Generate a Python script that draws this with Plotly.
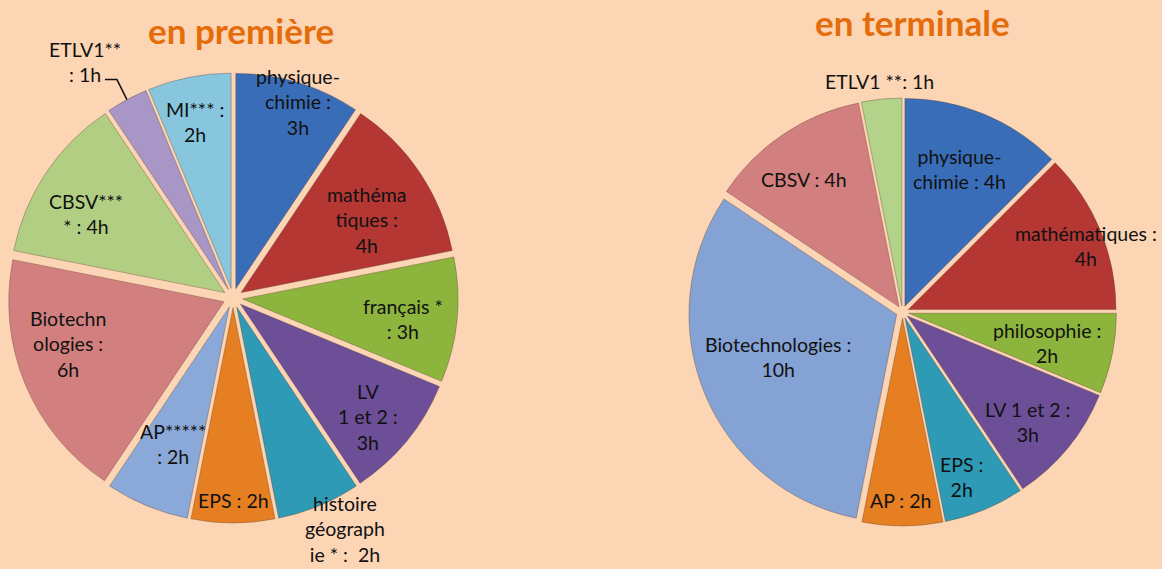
import math
import plotly.graph_objects as go

W, H = 1162, 569

# ---------------- data ----------------
labels_1 = ["physique-chimie", "mathématiques", "français *", "LV 1 et 2",
            "histoire géographie *", "EPS", "AP*****", "Biotechnologies",
            "CBSV****", "ETLV1**", "MI***"]
hours_1 = [3, 4, 3, 3, 2, 2, 2, 6, 4, 1, 2]
text_1 = ["physique-<br>chimie :<br>3h", "mathéma<br>tiques :<br>4h",
          "français *<br>: 3h", "LV<br>1 et 2 :<br>3h",
          "histoire<br>géograph<br>ie * :  2h", "EPS : 2h", "AP*****<br>: 2h",
          "Biotechn<br>ologies :<br>6h", "CBSV***<br>* : 4h",
          "ETLV1**<br>: 1h", "MI*** :<br>2h"]

labels_2 = ["physique-chimie", "mathématiques", "philosophie", "LV 1 et 2",
            "EPS", "AP", "Biotechnologies", "CBSV", "ETLV1 **"]
hours_2 = [4, 4, 2, 3, 2, 2, 10, 4, 1]
text_2 = ["physique-<br>chimie : 4h", "mathématiques :<br>4h",
          "philosophie :<br>2h", "LV 1 et 2 :<br>3h", "EPS :<br>2h",
          "AP : 2h", "Biotechnologies :<br>10h", "CBSV : 4h",
          "ETLV1 **: 1h"]

titles = ["en première", "en terminale"]

# ---------------- styles ----------------
colors_1 = ["#3A6DB8", "#B43734", "#8DB43D", "#6D4F98", "#2E9AB6", "#E67E22",
            "#8AA8D8", "#D2807F", "#B2CE83", "#A897C6", "#88C6DE"]
colors_2 = ["#3A6DB8", "#B43734", "#8DB43D", "#6D4F98", "#2E9AB6", "#E67E22",
            "#84A2D4", "#D2807F", "#B3D38A"]
# label placement: (radius fraction, angle offset in degrees)
place_1 = [(0.92, 1.5), (0.69, 3.5), (0.76, 1.5), (0.80, 2), (1.14, -3.3),
           (0.90, 0), (0.70, 0), (0.76, 7), (0.75, -4), (1.24, -4), (0.80, -1)]
place_2 = [(0.72, -0.7), (0.91, 2.6), (0.69, 0.9), (0.78, 2), (0.82, 2.7),
           (0.88, 0.5), (0.62, 2.8), (0.77, -3), (1.08, 0)]

dom_1 = dict(x=[8 / W, 458 / W], y=[1 - 523 / H, 1 - 73 / H])
dom_2 = dict(x=[688 / W, 1117 / W], y=[1 - 526 / H, 1 - 98 / H])
pull_1 = 0.045
pull_2 = 0.03

FONT = "Lato, Carlito, 'Open Sans', sans-serif"

fig = go.Figure()

for labels, vals, cols, dom, pull in [
        (labels_1, hours_1, colors_1, dom_1, pull_1),
        (labels_2, hours_2, colors_2, dom_2, pull_2)]:
    fig.add_trace(go.Pie(
        labels=labels, values=vals, sort=False, direction="clockwise",
        rotation=0, pull=[pull] * len(vals), textinfo="none",
        hoverinfo="label+value",
        marker=dict(colors=cols, line=dict(color="rgba(90,60,40,0.35)", width=1)),
        domain=dom, showlegend=False))

annotations = []
shapes = []


def pie_geom(dom):
    x0, x1 = dom["x"][0] * W, dom["x"][1] * W
    y0, y1 = (1 - dom["y"][1]) * H, (1 - dom["y"][0]) * H
    cx, cy = (x0 + x1) / 2, (y0 + y1) / 2
    R = min(x1 - x0, y1 - y0) / 2
    return cx, cy, R


def to_paper(px, py):
    return px / W, 1 - py / H


for vals, texts, place, dom in [(hours_1, text_1, place_1, dom_1),
                                (hours_2, text_2, place_2, dom_2)]:
    cx, cy, R = pie_geom(dom)
    total = sum(vals)
    cum = 0
    for v, t, (rf, da) in zip(vals, texts, place):
        mid = (cum + v / 2) / total * 360 + da
        cum += v
        a = math.radians(mid)
        px = cx + rf * R * math.sin(a)
        py = cy - rf * R * math.cos(a)
        xp, yp = to_paper(px, py)
        annotations.append(dict(x=xp, y=yp, xref="paper", yref="paper",
                                text=t, showarrow=False, align="center",
                                xanchor="center", yanchor="middle",
                                font=dict(family=FONT, size=19.5, color="#111111")))

# leader line for ETLV1 (left chart), from the slice edge to its label
cx, cy, R = pie_geom(dom_1)
cum = sum(hours_1[:9])
mid = math.radians((cum + hours_1[9] / 2) / sum(hours_1) * 360)
ex, ey = cx + 1.0 * R * math.sin(mid), cy - 1.0 * R * math.cos(mid)
p_end = to_paper(ex, ey)
p_elb = to_paper(ex - 10, ey - 20)
p_start = to_paper(ex - 22, ey - 20)
shapes.append(dict(type="path", xref="paper", yref="paper",
                   path=f"M {p_start[0]} {p_start[1]} L {p_elb[0]} {p_elb[1]} L {p_end[0]} {p_end[1]}",
                   line=dict(color="#111111", width=1.5)))

# titles
for t, (tx, ty) in zip(titles, [(241, 30), (912, 22)]):
    xp, yp = to_paper(tx, ty)
    annotations.append(dict(x=xp, y=yp, xref="paper", yref="paper", text=f"<b>{t}</b>",
                            showarrow=False, xanchor="center", yanchor="middle",
                            font=dict(family=FONT, size=35, color="#E46C0A")))

fig.update_layout(
    width=W, height=H, margin=dict(l=0, r=0, t=0, b=0),
    paper_bgcolor="#FCD5B5", plot_bgcolor="#FCD5B5",
    annotations=annotations, shapes=shapes)

fig.write_html("out.html", config={"displayModeBar": False})
